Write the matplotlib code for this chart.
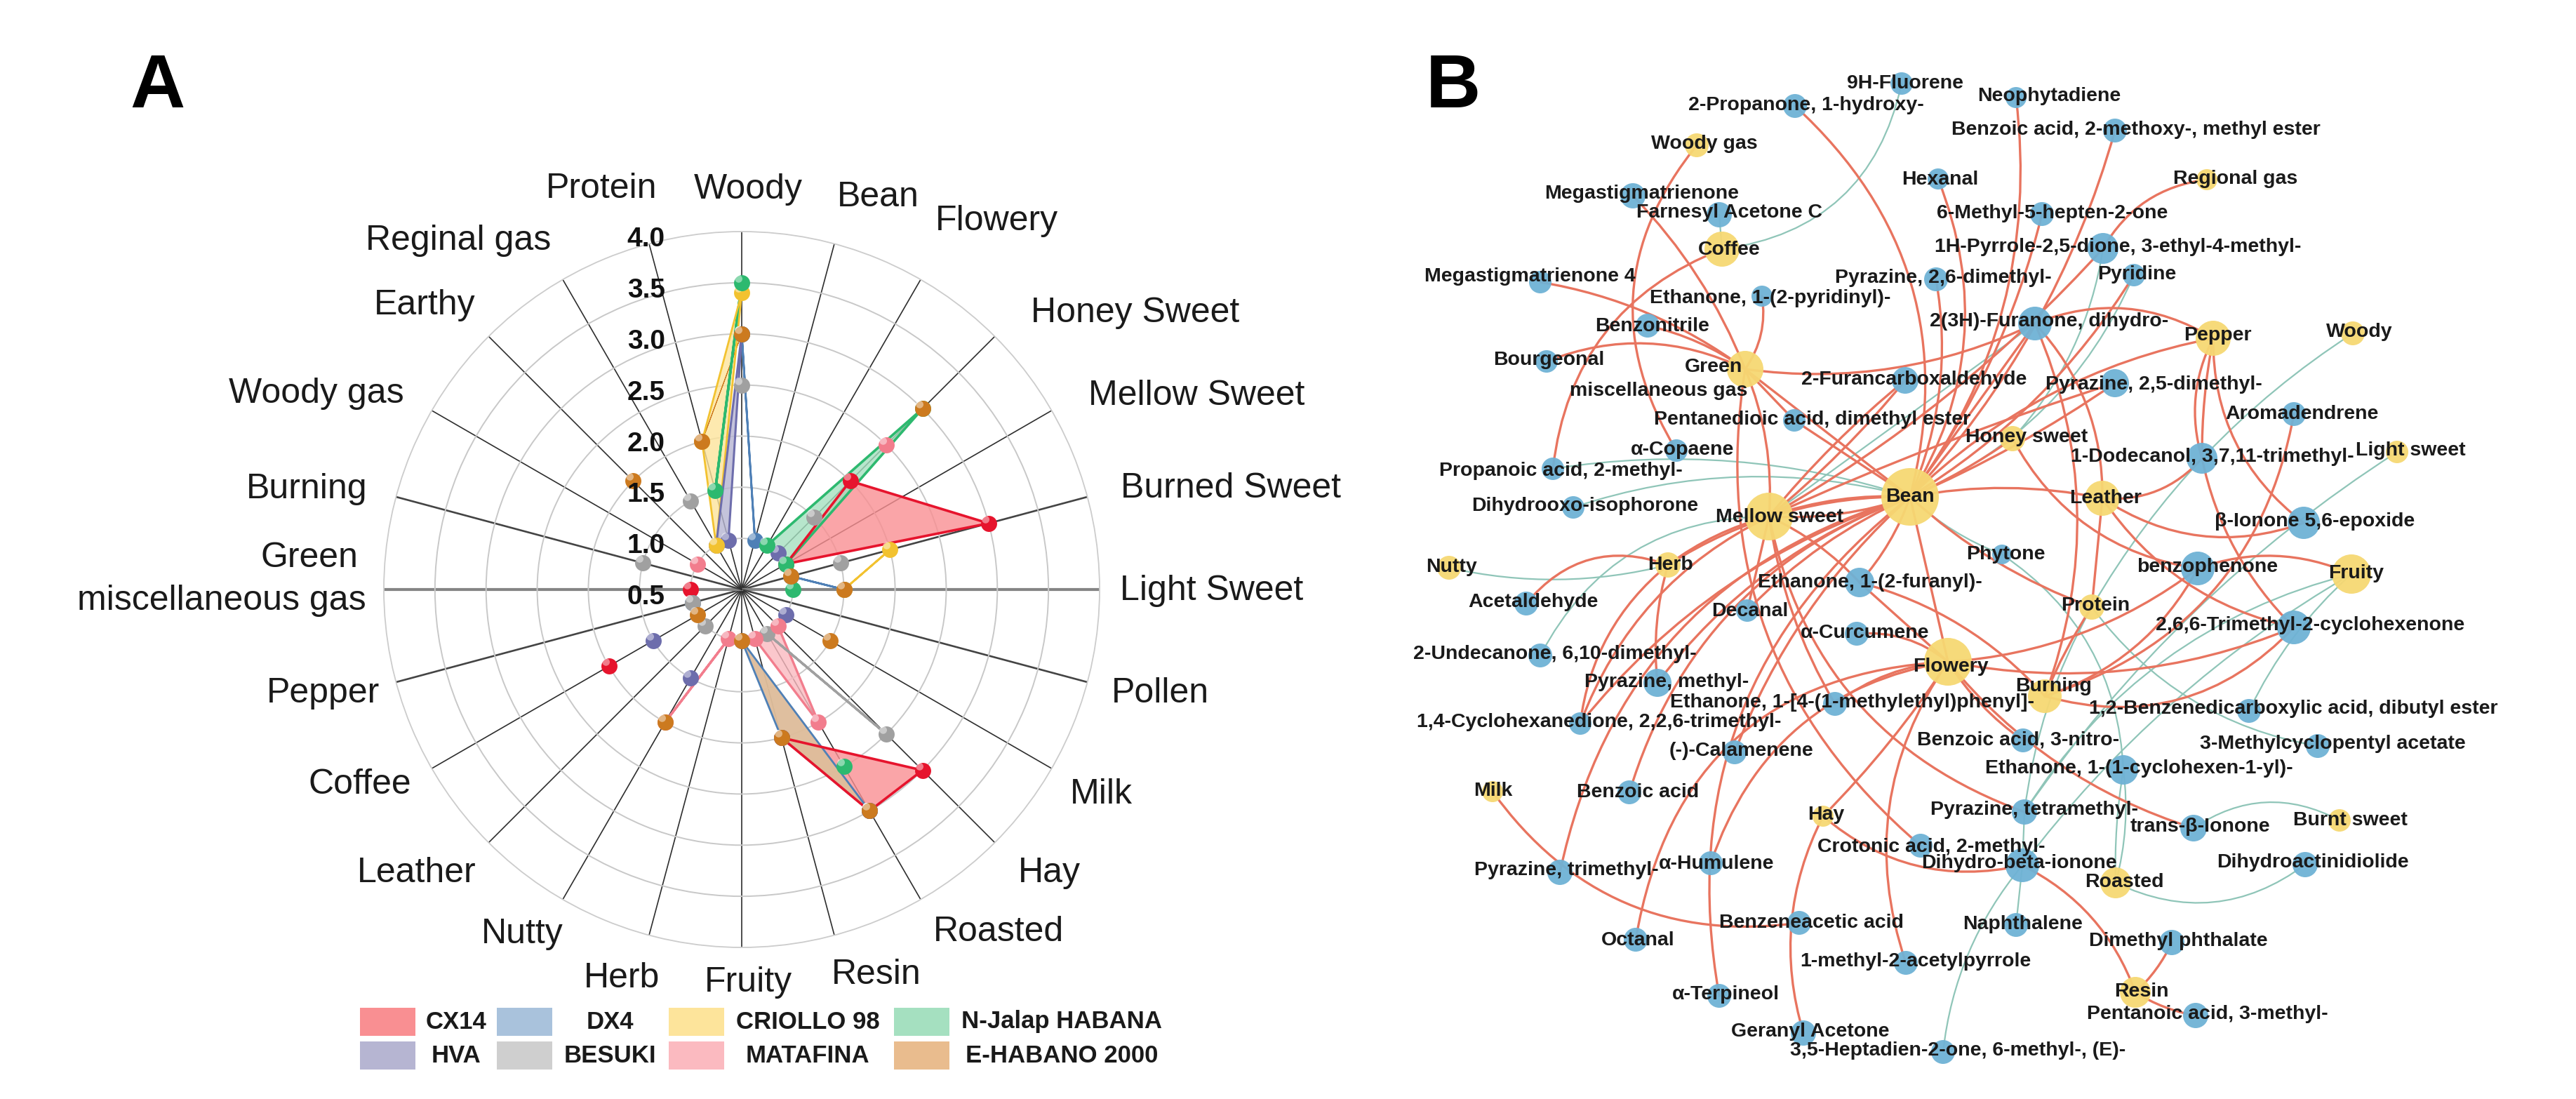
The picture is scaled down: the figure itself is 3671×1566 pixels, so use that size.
import numpy as np
import matplotlib
matplotlib.use('Agg')
import matplotlib.pyplot as plt
from matplotlib.patches import Circle, FancyArrowPatch, Rectangle
from matplotlib.path import Path

plt.rcParams['font.family'] = ['Liberation Sans', 'DejaVu Sans']

nan = np.nan

# panel A: odor radar
categories = ['Woody', 'Bean', 'Flowery', 'Honey Sweet', 'Mellow Sweet', 'Burned Sweet',
              'Light Sweet', 'Pollen', 'Milk', 'Hay', 'Roasted', 'Resin', 'Fruity', 'Herb',
              'Nutty', 'Leather', 'Coffee', 'Pepper', 'Green\nmiscellaneous gas', 'Burning',
              'Woody gas', 'Earthy', 'Reginal gas', 'Protein']
r_ticks = [0.5, 1.0, 1.5, 2.0, 2.5, 3.0, 3.5, 4.0]

#        Wo   Be   Fl   Ho   Me   Bu   Li   Po   Mi   Ha   Ro   Re   Fr   He   Nu   Le   Co   Pe   Gr   Bg   WG   Ea   RG   Pr
cx14 = [nan, nan, nan, 2.0, 1.0, 3.0, nan, nan, nan, 3.0, 3.0, 2.0, nan, nan, nan, nan, 2.0, nan, 1.0, nan, nan, nan, nan, nan]
hva = [3.0, nan, nan, 1.0, nan, nan, nan, nan, 1.0, nan, 3.0, nan, nan, nan, 1.5, nan, 1.5, nan, nan, nan, nan, nan, 1.0, 1.0]
dx4 = [3.0, 1.0, nan, nan, nan, 1.0, 1.5, nan, nan, nan, 3.0, 2.0, 1.0, nan, nan, nan, nan, 1.0, nan, nan, nan, nan, nan, nan]
besuki = [2.5, nan, nan, 1.5, nan, 1.5, nan, nan, nan, 2.5, 1.0, nan, nan, nan, nan, 1.0, nan, 1.0, nan, 1.5, nan, nan, 1.5, nan]
criollo = [3.4, nan, nan, nan, nan, 2.0, 1.5, nan, nan, nan, nan, nan, nan, nan, nan, nan, nan, nan, nan, nan, nan, nan, 1.0, 2.0]
matafina = [nan, nan, nan, 2.5, nan, nan, nan, nan, nan, 1.0, 2.0, 1.0, nan, 1.0, 2.0, nan, nan, nan, nan, nan, 1.0, nan, nan, nan]
n_jalap = [3.5, nan, 1.0, 3.0, 1.0, nan, 1.0, nan, nan, nan, 2.5, nan, nan, nan, nan, nan, nan, nan, nan, nan, nan, nan, nan, 1.5]
e_habano = [3.0, nan, nan, 3.0, nan, 1.0, 1.5, nan, 1.5, nan, 3.0, 2.0, 1.0, nan, 2.0, nan, 1.0, nan, nan, nan, nan, 2.0, nan, 2.0]

series_names = ['CX14', 'HVA', 'DX4', 'BESUKI', 'CRIOLLO 98', 'MATAFINA', 'N-Jalap HABANA', 'E-HABANO 2000']
series_values = [cx14, hva, dx4, besuki, criollo, matafina, n_jalap, e_habano]
fill_colors = ['#F98F92', '#B6B5D2', '#A9C2DC', '#CFCFCF', '#FDE49B', '#FBBAC0', '#A5E0C0', '#E9BC8E']
line_colors = ['#E6142D', '#6D6DAC', '#4F80B6', '#A0A0A0', '#F2C230', '#F27D8D', '#2DB96F', '#CC7A1F']
line_widths = [2.6, 2.2, 2.0, 2.4, 2.0, 2.4, 2.6, 0.8]

# panel B: network, name -> node x, node y, radius, label x, label y (image pixels)
odor_nodes = {
    'Woody gas': (2418, 207, 17, 2429, 205), 'Coffee': (2454, 355, 25, 2464, 356),
    'Green': (2487, 526, 26, 2442, 523), 'Regional gas': (3145, 256, 15, 3186, 255),
    'Pepper': (3154, 482, 25, 3160, 478), 'Woody': (3353, 475, 17, 3362, 473),
    'Honey sweet': (2868, 625, 18, 2888, 623), 'Light sweet': (3416, 644, 16, 3435, 642),
    'Leather': (2996, 710, 25, 3001, 710), 'Mellow sweet': (2521, 736, 34, 2536, 737),
    'Bean': (2722, 708, 41, 2722, 708), 'Nutty': (2065, 809, 17, 2069, 808),
    'Herb': (2377, 805, 18, 2381, 805), 'Fruity': (3351, 818, 28, 3358, 817),
    'Protein': (2981, 865, 18, 2986, 863), 'Flowery': (2776, 943, 34, 2780, 950),
    'Burning': (2914, 992, 24, 2927, 978), 'Milk': (2127, 1128, 15, 2128, 1127),
    'Hay': (2598, 1163, 15, 2602, 1161), 'Burnt sweet': (3334, 1169, 16, 3349, 1169),
    'Roasted': (3015, 1258, 22, 3027, 1257), 'Resin': (3043, 1414, 22, 3052, 1413),
}
compound_nodes = {
    '9H-Fluorene': (2710, 119, 16, 2715, 119), '2-Propanone, 1-hydroxy-': (2558, 151, 17, 2574, 150),
    'Megastigmatrienone': (2327, 279, 18, 2340, 276), 'Farnesyl Acetone C': (2450, 306, 18, 2464, 303),
    'Megastigmatrienone 4': (2195, 402, 16, 2180, 394), 'Ethanone, 1-(2-pyridinyl)-': (2511, 422, 15, 2523, 425),
    'Benzonitrile': (2348, 464, 17, 2355, 465), 'Bourgeonal': (2204, 515, 16, 2207, 513),
    '2-Furancarboxaldehyde': (2715, 542, 19, 2728, 541), 'Pentanedioic acid, dimethyl ester': (2557, 599, 16, 2583, 598),
    'α-Copaene': (2389, 642, 16, 2398, 641), 'Propanoic acid, 2-methyl-': (2213, 668, 16, 2224, 671),
    'Dihydrooxo-isophorone': (2242, 723, 16, 2259, 721), 'Neophytadiene': (2873, 139, 15, 2920, 137),
    'Benzoic acid, 2-methoxy-, methyl ester': (3014, 186, 17, 3044, 185), 'Hexanal': (2762, 255, 15, 2765, 256),
    '6-Methyl-5-hepten-2-one': (2910, 305, 17, 2925, 304), '1H-Pyrrole-2,5-dione, 3-ethyl-4-methyl-': (2997, 354, 22, 3018, 352),
    'Pyridine': (3041, 392, 16, 3045, 391), 'Pyrazine, 2,6-dimethyl-': (2759, 398, 17, 2769, 396),
    '2(3H)-Furanone, dihydro-': (2900, 461, 24, 2920, 458), 'Pyrazine, 2,5-dimethyl-': (3014, 546, 20, 3069, 548),
    'Aromadendrene': (3269, 590, 17, 3280, 590), '1-Dodecanol, 3,7,11-trimethyl-': (3138, 653, 22, 3153, 651),
    'β-Ionone 5,6-epoxide': (3283, 745, 23, 3299, 743), 'Phytone': (2853, 790, 14, 2858, 790),
    'Ethanone, 1-(2-furanyl)-': (2650, 830, 21, 2665, 830), 'Acetaldehyde': (2175, 860, 17, 2185, 858),
    'Decanal': (2490, 870, 16, 2494, 871), 'α-Curcumene': (2646, 903, 17, 2658, 902),
    '2-Undecanone, 6,10-dimethyl-': (2195, 934, 17, 2216, 932), 'Pyrazine, methyl-': (2362, 973, 20, 2375, 972),
    'Ethanone, 1-[4-(1-methylethyl)phenyl]-': (2615, 1003, 17, 2639, 1001), '1,4-Cyclohexanedione, 2,2,6-trimethyl-': (2252, 1031, 16, 2279, 1029),
    '(-)-Calamenene': (2472, 1072, 17, 2481, 1070), 'Benzoic acid': (2322, 1129, 17, 2334, 1129),
    'α-Humulene': (2438, 1230, 17, 2446, 1231), 'Pyrazine, trimethyl-': (2223, 1243, 18, 2232, 1240),
    'Crotonic acid, 2-methyl-': (2737, 1205, 17, 2752, 1207), 'Dihydro-beta-ionone': (2882, 1233, 24, 2877, 1230),
    'Benzeneacetic acid': (2564, 1315, 17, 2581, 1315), 'Octanal': (2331, 1339, 17, 2334, 1340),
    '1-methyl-2-acetylpyrrole': (2716, 1372, 17, 2730, 1370), 'α-Terpineol': (2450, 1419, 17, 2459, 1417),
    'Geranyl Acetone': (2570, 1472, 18, 2580, 1470), '3,5-Heptadien-2-one, 6-methyl-, (E)-': (2769, 1499, 17, 2790, 1497),
    'benzophenone': (3132, 810, 24, 3146, 808), '2,6,6-Trimethyl-2-cyclohexenone': (3269, 894, 24, 3292, 891),
    '1,2-Benzenedicarboxylic acid, dibutyl ester': (3205, 1013, 17, 3268, 1010), '3-Methylcyclopentyl acetate': (3303, 1063, 17, 3324, 1060),
    'Benzoic acid, 3-nitro-': (2883, 1055, 17, 2876, 1054), 'Ethanone, 1-(1-cyclohexen-1-yl)-': (3026, 1097, 21, 3048, 1095),
    'Pyrazine, tetramethyl-': (2885, 1157, 18, 2899, 1154), 'trans-β-Ionone': (3126, 1180, 19, 3135, 1178),
    'Dihydroactinidiolide': (3285, 1232, 18, 3296, 1229), 'Naphthalene': (2873, 1318, 17, 2883, 1317),
    'Dimethyl phthalate': (3095, 1343, 18, 3104, 1341), 'Pentanoic acid, 3-methyl-': (3129, 1447, 18, 3146, 1445),
}

# source, target, curvature (positive bulges to the right of travel)
red_edges = [
    ('Woody gas', 'α-Copaene', .35), ('Megastigmatrienone', 'Green', -.1),
    ('Coffee', 'Propanoic acid, 2-methyl-', .3), ('Megastigmatrienone 4', 'Green', -.12),
    ('Benzonitrile', 'Green', -.1), ('Bourgeonal', 'Green', -.22),
    ('Ethanone, 1-(2-pyridinyl)-', 'Green', -.2), ('Green', '2(3H)-Furanone, dihydro-', .15),
    ('Green', 'Pentanedioic acid, dimethyl ester', 0), ('Green', 'Mellow sweet', -.12),
    ('Green', 'Bean', 0), ('Green', 'Crotonic acid, 2-methyl-', .28),
    ('2-Propanone, 1-hydroxy-', 'Bean', -.3), ('Neophytadiene', 'Bean', -.2),
    ('Hexanal', 'Bean', -.25), ('6-Methyl-5-hepten-2-one', 'Bean', -.1),
    ('Benzoic acid, 2-methoxy-, methyl ester', 'Bean', -.12),
    ('1H-Pyrrole-2,5-dione, 3-ethyl-4-methyl-', 'Mellow sweet', -.08),
    ('Pyrazine, 2,6-dimethyl-', 'Bean', -.15), ('Pyridine', 'Bean', -.12),
    ('Pyrazine, 2,5-dimethyl-', 'Bean', -.05), ('Pyrazine, 2,5-dimethyl-', 'Mellow sweet', .03),
    ('Regional gas', '1H-Pyrrole-2,5-dione, 3-ethyl-4-methyl-', .25), ('Bean', 'Pepper', -.15),
    ('2(3H)-Furanone, dihydro-', 'Pepper', -.25), ('2(3H)-Furanone, dihydro-', 'Leather', -.2),
    ('2(3H)-Furanone, dihydro-', 'Burning', -.2), ('2(3H)-Furanone, dihydro-', 'Bean', 0),
    ('Pepper', '1-Dodecanol, 3,7,11-trimethyl-', .2), ('Pepper', '1-Dodecanol, 3,7,11-trimethyl-', .05),
    ('Pepper', 'β-Ionone 5,6-epoxide', .25), ('1-Dodecanol, 3,7,11-trimethyl-', '2,6,6-Trimethyl-2-cyclohexenone', .15),
    ('1-Dodecanol, 3,7,11-trimethyl-', 'Leather', -.25), ('Aromadendrene', 'Burning', -.3),
    ('Leather', 'β-Ionone 5,6-epoxide', .25), ('Bean', 'Leather', -.1),
    ('Leather', 'Protein', 0), ('Leather', '2,6,6-Trimethyl-2-cyclohexenone', .2),
    ('benzophenone', 'Fruity', -.2), ('Honey sweet', 'benzophenone', .25),
    ('Flowery', 'benzophenone', .15), ('Flowery', '2,6,6-Trimethyl-2-cyclohexenone', .15),
    ('Burning', 'benzophenone', .2), ('Burning', '2,6,6-Trimethyl-2-cyclohexenone', .3),
    ('Protein', 'Burning', .05), ('Ethanone, 1-(2-furanyl)-', 'Burning', -.15),
    ('Ethanone, 1-(2-furanyl)-', 'Flowery', 0), ('Flowery', 'trans-β-Ionone', .15),
    ('Mellow sweet', 'Pyrazine, tetramethyl-', .28), ('Milk', 'Benzeneacetic acid', .3),
    ('Hay', 'Dihydro-beta-ionone', .25), ('Hay', 'Geranyl Acetone', .2),
    ('Hay', 'Flowery', .05), ('1-methyl-2-acetylpyrrole', 'Flowery', -.25),
    ('Octanal', 'Flowery', -.4), ('α-Humulene', 'Flowery', -.3),
    ('α-Terpineol', 'Bean', -.3), ('(-)-Calamenene', 'Bean', -.12),
    ('Benzoic acid', 'Bean', -.25), ('Pyrazine, trimethyl-', 'Bean', -.3),
    ('1,4-Cyclohexanedione, 2,2,6-trimethyl-', 'Mellow sweet', -.2),
    ('1,4-Cyclohexanedione, 2,2,6-trimethyl-', 'Bean', -.15), ('Pyrazine, methyl-', 'Bean', -.15),
    ('Acetaldehyde', 'Herb', -.35), ('Herb', 'Mellow sweet', -.1),
    ('Herb', '1,4-Cyclohexanedione, 2,2,6-trimethyl-', .2), ('Herb', 'Pyrazine, methyl-', .1),
    ('Decanal', 'Bean', -.1), ('Decanal', 'Mellow sweet', 0),
    ('Pentanedioic acid, dimethyl ester', 'Bean', 0), ('Ethanone, 1-(2-furanyl)-', 'Bean', .1),
    ('Ethanone, 1-(2-furanyl)-', 'Mellow sweet', .1), ('Mellow sweet', 'Bean', .1),
    ('Mellow sweet', 'Bean', -.1), ('Mellow sweet', '2-Furancarboxaldehyde', .05),
    ('Mellow sweet', '2-Furancarboxaldehyde', -.05), ('Bean', 'Flowery', 0),
    ('Bean', 'Herb', .15), ('Bean', 'Honey sweet', .05), ('Bean', 'Protein', .1),
    ('Dihydro-beta-ionone', 'Resin', -.2), ('Dimethyl phthalate', 'Resin', -.1),
    ('Resin', 'Pentanoic acid, 3-methyl-', .1), ('α-Curcumene', 'Flowery', -.2),
    ('Ethanone, 1-[4-(1-methylethyl)phenyl]-', 'Flowery', -.15), ('Mellow sweet', 'Ethanone, 1-[4-(1-methylethyl)phenyl]-', .1),
    ('Flowery', 'Benzoic acid, 3-nitro-', .1),
]
teal_edges = [
    ('9H-Fluorene', 'Coffee', -.35), ('Farnesyl Acetone C', 'Coffee', 0),
    ('Propanoic acid, 2-methyl-', 'Bean', -.12), ('Dihydrooxo-isophorone', 'Bean', -.15),
    ('2-Undecanone, 6,10-dimethyl-', 'Mellow sweet', -.3), ('Woody', 'Protein', .12),
    ('Light sweet', 'Pyrazine, tetramethyl-', .1), ('Fruity', 'Pyrazine, tetramethyl-', .2),
    ('Fruity', 'Dihydro-beta-ionone', .1), ('Fruity', '1,2-Benzenedicarboxylic acid, dibutyl ester', .1),
    ('Phytone', 'Ethanone, 1-(1-cyclohexen-1-yl)-', -.25), ('Protein', '3-Methylcyclopentyl acetate', .2),
    ('Protein', 'Pyrazine, tetramethyl-', .1), ('Ethanone, 1-(1-cyclohexen-1-yl)-', 'Roasted', -.1),
    ('Ethanone, 1-(1-cyclohexen-1-yl)-', 'Roasted', .05), ('Burnt sweet', 'trans-β-Ionone', .3),
    ('Roasted', 'Dihydroactinidiolide', .3), ('Dihydro-beta-ionone', 'Naphthalene', 0),
    ('3,5-Heptadien-2-one, 6-methyl-, (E)-', 'Dihydro-beta-ionone', -.15), ('Nutty', 'Herb', .12),
    ('Bean', 'Phytone', .1), ('Pyridine', 'Bean', -.2), ('2(3H)-Furanone, dihydro-', 'Mellow sweet', 0),
    ('1H-Pyrrole-2,5-dione, 3-ethyl-4-methyl-', 'Honey sweet', -.15), ('Pyrazine, tetramethyl-', 'Dihydro-beta-ionone', 0),
]

W, H = 3671, 1566
CX, CY, R = 1057, 840, 510
NET_FONT = 20.5


def split_runs(values):
    # cyclic runs of neighbouring spokes that have a value
    n = len(values)
    have = [not np.isnan(v) for v in values]
    start = have.index(False)
    runs, run = [], []
    for k in range(start, start + n):
        i = k % n
        if have[i]:
            run.append(i)
        elif run:
            runs.append(run)
            run = []
    if run:
        runs.append(run)
    return runs


fig = plt.figure(figsize=(W / 100, H / 100), dpi=100, facecolor='white')

# radar
ax = fig.add_axes([(CX - R) / W, (H - CY - R) / H, 2 * R / W, 2 * R / H], projection='polar')
ax.set_theta_zero_location('N')
ax.set_theta_direction(-1)
ax.set_ylim(0.5, 4.0)
theta = np.deg2rad(np.arange(len(categories)) * 15)
ax.set_xticks([])
ax.set_yticks(r_ticks[1:-1])
ax.set_yticklabels([])
ax.grid(False)
ax.yaxis.grid(True, color='#C8C8C8', lw=1.4)
ax.spines['polar'].set_color('#CCCCCC')
ax.spines['polar'].set_linewidth(1.3)
ax.tick_params(length=0)

for i, t in enumerate(theta):
    angle = i * 15
    if angle in (90, 270):
        ax.plot([t, t], [0.5, 4.0], color='#858585', lw=3.0, zorder=1.5)
    elif angle in (75, 105, 255, 285):
        ax.plot([t, t], [0.5, 4.0], color='#444444', lw=1.9, zorder=1.5)
    else:
        ax.plot([t, t], [0.5, 4.0], color='#2E2E2E', lw=1.2, zorder=1.5)

glint = Path.circle((-0.2, 0.25), 0.22)
for k, values in enumerate(series_values):
    for run in split_runs(values):
        t_run = [theta[i] for i in run]
        r_run = [values[i] for i in run]
        if len(run) > 1:
            ax.fill(t_run, r_run, color=fill_colors[k], alpha=0.8, lw=0, zorder=2 + k * 0.1)
            ax.plot(t_run + t_run[:1], r_run + r_run[:1], color=line_colors[k], lw=line_widths[k],
                    zorder=3 - k * 0.05)
    vals = np.array(values)
    ok = ~np.isnan(vals)
    ax.plot(theta[ok], vals[ok], ls='none', marker='o', ms=16.5, mfc=line_colors[k], mec='none',
            zorder=4 + k * 0.1, clip_on=False)
    ax.plot(theta[ok], vals[ok], ls='none', marker=glint, ms=16.5, mfc='white', mec='none', alpha=0.45,
            zorder=4.05 + k * 0.1, clip_on=False)

for v in r_ticks:
    ax.annotate(f'{v:.1f}', xy=(0, v), xytext=(-78.5, -8), textcoords='offset points', ha='right',
                va='center', fontsize=28, fontweight='bold', color='#111111', zorder=6,
                annotation_clip=False)

# everything else is placed on the image pixel grid
px = fig.add_axes([0, 0, 1, 1], facecolor='none')
px.set_xlim(0, W)
px.set_ylim(H, 0)
px.axis('off')

px.text(224, 153, 'A', fontsize=78, fontweight='bold', ha='center', va='baseline', color='black')
px.text(2071, 153, 'B', fontsize=78, fontweight='bold', ha='center', va='baseline', color='black')

cat_label_x = [1066, 1251, 1420, 1618, 1705, 1754, 1727, 1653, 1569, 1495, 1423, 1249, 1066, 886,
               744, 594, 513, 460, None, 437, 451, 605, 653, 857]
cat_label_y = [270, 281, 315, 446, 564, 696, 842, 988, 1132, 1244, 1328, 1389, 1400, 1394,
               1331, 1244, 1118, 988, None, 697, 561, 435, 343, 269]
for name, x, y in zip(categories, cat_label_x, cat_label_y):
    if x is not None:
        px.text(x, y, name, fontsize=36, ha='center', va='center', color='#1A1A1A')
green_top, green_bottom = categories[18].split('\n')
px.text(441, 795, green_top, fontsize=36, ha='center', va='center', color='#1A1A1A')
px.text(316, 856, green_bottom, fontsize=36, ha='center', va='center', color='#1A1A1A')

# legend
swatch_x = [513, 708, 953, 1274]
swatch_y = [1436, 1484]
legend_text_x = [650, 869, 1151, 1513]
for k, name in enumerate(series_names):
    col, row = k // 2, k % 2
    px.add_patch(Rectangle((swatch_x[col], swatch_y[row]), 79, 40, fc=fill_colors[k], ec='none'))
    px.text(legend_text_x[col], swatch_y[row] + 20, name, fontsize=25, fontweight='bold',
            ha='center', va='center', color='#1A1A1A')

# network
nodes = {**odor_nodes, **compound_nodes}
for edges, color, lw in ((teal_edges, '#8FC5B8', 1.6), (red_edges, '#E8745F', 2.4)):
    for a, b, rad in edges:
        px.add_patch(FancyArrowPatch(nodes[a][:2], nodes[b][:2], arrowstyle='-', shrinkA=0, shrinkB=0,
                                     connectionstyle=f'arc3,rad={rad}', color=color, lw=lw, zorder=2))

for group, color in ((compound_nodes, '#6FB2D5'), (odor_nodes, '#F6D873')):
    for name, (x, y, r, lx, ly) in group.items():
        px.add_patch(Circle((x, y), r, fc=color, ec='none', alpha=0.95, zorder=3))
        px.text(lx, ly, name, fontsize=NET_FONT, fontweight='bold', ha='center', va='center',
                color='#1A1A1A', zorder=4)
px.text(2364, 557, 'miscellaneous gas', fontsize=NET_FONT, fontweight='bold', ha='center', va='center',
        color='#1A1A1A', zorder=4)

fig.savefig('out.png', dpi=100, facecolor='white')
